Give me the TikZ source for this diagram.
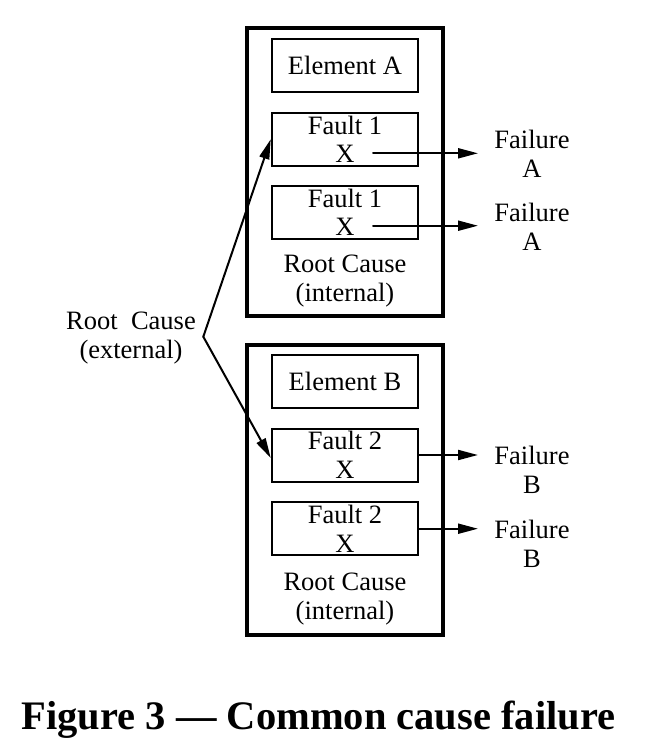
\documentclass[tikz,border=0pt]{standalone}
\usepackage{fontspec}
\setmainfont{Liberation Serif}
\usetikzlibrary{arrows.meta}
\begin{document}
\begin{tikzpicture}[x=1pt,y=-1pt,
  txt/.style={font=\fontsize{26.5}{28.5}\selectfont, inner sep=0pt, align=center},
  inbox/.style={txt, draw, line width=2pt, minimum width=146.5pt, minimum height=53pt},
  outbox/.style={draw, line width=4pt, minimum width=195.5pt},
  arr/.style={line width=2pt, line cap=round, -{Triangle[length=20pt,width=10pt]}}
]
\useasboundingbox (0,0) rectangle (670,756);
% outer boxes
\node[outbox, minimum height=288.5pt] (ca) at (344.75,171.75) {};
\node[outbox, minimum height=290pt] (cb) at (344.75,489.5) {};
% element A
\node[inbox] (ea) at (345,65) {Element A};
\node[inbox] (f1) at (345,139.2) {Fault 1\\X};
\node[inbox] (f1b) at (345,212.3) {Fault 1\\X};
\node[txt] (ria) at (345,281) {Root Cause\\(internal)};
% element B
\node[inbox] (eb) at (345,381.5) {Element B};
\node[inbox] (f2) at (345,455) {Fault 2\\X};
\node[inbox] (f2b) at (345,528.7) {Fault 2\\X};
\node[txt] (rib) at (345,599) {Root Cause\\(internal)};
% failure labels
\node[txt] (fa1) at (532,154) {Failure\\A};
\node[txt] (fa2) at (532,227) {Failure\\A};
\node[txt] (fb1) at (532,470) {Failure\\B};
\node[txt] (fb2) at (532,544) {Failure\\B};
% external root cause
\node[txt] (rce) at (131,338) {Root~ Cause\\(external)};
% title
\node[font=\fontsize{40.5}{48}\selectfont\bfseries, inner sep=0pt, anchor=base] (title) at (318.5,729) {Figure 3 — Common cause failure};
% connectors
\coordinate (s1) at (373,153.3);
\coordinate (e1) at (478,153.3);
\coordinate (s2) at (373,225.7);
\coordinate (e2) at (478,225.7);
\coordinate (e3) at (478,455);
\coordinate (e4) at (478,528.7);
\draw[arr] (s1) -- (e1);
\draw[arr] (s2) -- (e2);
\draw[arr] (f2.east) -- (e3);
\draw[arr] (f2b.east) -- (e4);
\coordinate (bend) at (203.3,336.7);
\draw[arr] (bend) -- (f1.west);
\draw[arr] (bend) -- ([yshift=-3pt]f2.west);
\end{tikzpicture}
\end{document}
